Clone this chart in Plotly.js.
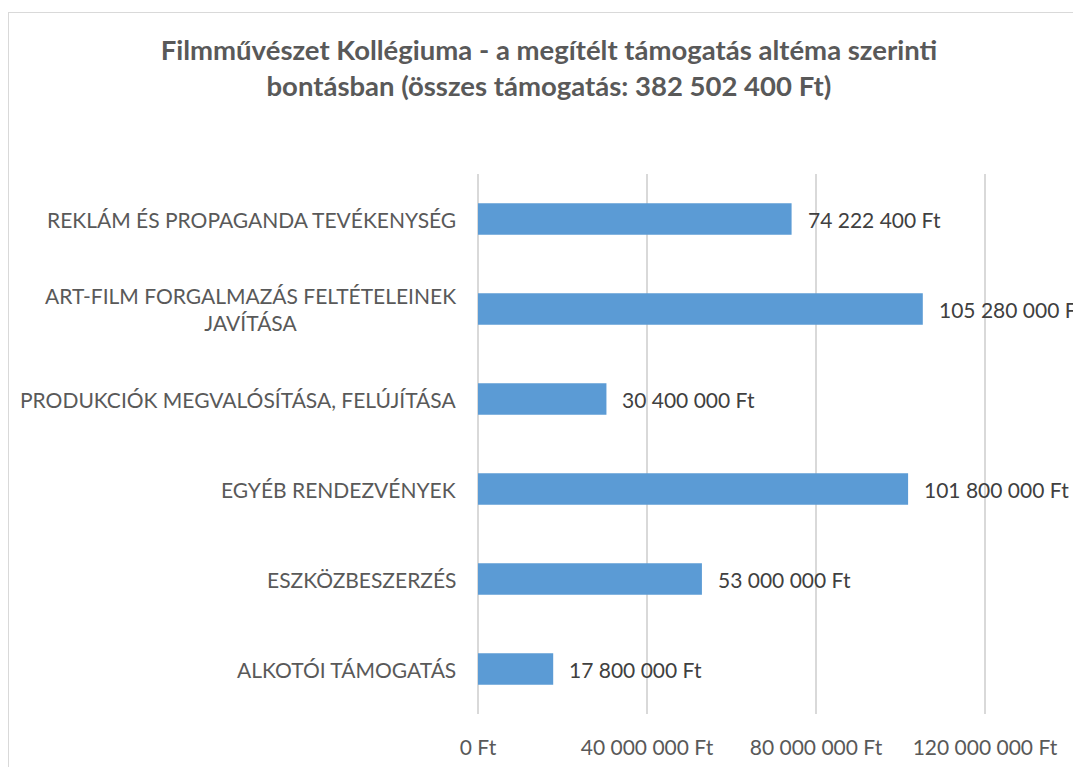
<!DOCTYPE html>
<html>
<head>
<meta charset="utf-8">
<script src="https://cdn.plot.ly/plotly-3.0.1.min.js"></script>
<style>
  html, body { margin:0; padding:0; width:1073px; height:767px; overflow:hidden; background:#ffffff; }
  #frame { position:absolute; left:8px; top:12px; width:1200px; height:900px; border-left:1.5px solid #d9d9d9; border-top:1.5px solid #d9d9d9; }
  #chart { position:absolute; left:0; top:0; width:1073px; height:767px; }
</style>
</head>
<body>
<div id="frame"></div>
<div id="chart"></div>
<script>
const categories = [
  "ALKOTÓI TÁMOGATÁS",
  "ESZKÖZBESZERZÉS",
  "EGYÉB RENDEZVÉNYEK",
  "PRODUKCIÓK MEGVALÓSÍTÁSA, FELÚJÍTÁSA",
  "ART-FILM FORGALMAZÁS FELTÉTELEINEK<br>JAVÍTÁSA",
  "REKLÁM ÉS PROPAGANDA TEVÉKENYSÉG"
];
const values = [17800000, 53000000, 101800000, 30400000, 105280000, 74222400];
const titleText = "Filmművészet Kollégiuma - a megítélt támogatás altéma szerinti<br>bontásban (összes támogatás: 382 502 400 Ft)";

function fmt(v) {
  return String(v).replace(/\B(?=(\d{3})+(?!\d))/g, " ") + " Ft";
}

const FONT = "Lato, 'Open Sans', sans-serif";

const trace = {
  type: "bar",
  orientation: "h",
  x: values,
  y: categories,
  width: 0.35,
  marker: { color: "#5b9bd5" },
  hoverinfo: "none"
};

const annotations = [];
categories.forEach((c, i) => {
  annotations.push({
    x: values[i], y: c, xref: "x", yref: "y",
    text: fmt(values[i]), showarrow: false,
    xanchor: "left", yanchor: "middle", xshift: 14,
    font: { family: FONT, size: 21, color: "#404040" }
  });
  annotations.push({
    x: 0, y: c, xref: "paper", yref: "y",
    text: c, showarrow: false, align: "center",
    xanchor: "right", yanchor: "middle", xshift: -20,
    font: { family: FONT, size: 21, color: "#595959" }
  });
});

const layout = {
  width: 1073, height: 767,
  paper_bgcolor: "rgba(0,0,0,0)",
  plot_bgcolor: "rgba(0,0,0,0)",
  separators: ", ",
  margin: { l: 478, r: 0, t: 174, b: 53 },
  showlegend: false,
  title: {
    text: titleText,
    x: 0.5116, xref: "container", xanchor: "center",
    y: 0.922, yref: "container", yanchor: "top",
    font: { family: FONT, size: 27.5, color: "#595959", weight: "bold" }
  },
  xaxis: {
    range: [0, 140830000],
    dtick: 40000000, tick0: 0,
    tickformat: ",d", ticksuffix: " Ft",
    showgrid: true, gridcolor: "#d9d9d9", gridwidth: 1.5,
    zeroline: true, zerolinecolor: "#d9d9d9", zerolinewidth: 1.5,
    showline: false,
    ticks: "outside", ticklen: 15, tickcolor: "rgba(0,0,0,0)",
    tickfont: { family: FONT, size: 21, color: "#595959" },
    fixedrange: true
  },
  yaxis: {
    type: "category",
    categoryorder: "array", categoryarray: categories,
    showticklabels: false, showgrid: false, zeroline: false, showline: false,
    fixedrange: true
  },
  annotations: annotations
};

Plotly.newPlot("chart", [trace], layout, { displayModeBar: false, staticPlot: true });
</script>
</body>
</html>
